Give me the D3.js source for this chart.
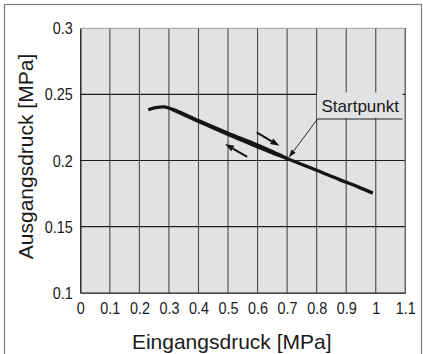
<!DOCTYPE html>
<html>
<head>
<meta charset="utf-8">
<script src="https://cdn.jsdelivr.net/npm/d3@7"></script>
<style>
  html, body { margin: 0; padding: 0; background: #fff; }
  svg { display: block; font-family: "Liberation Sans", Arial, sans-serif; }
</style>
</head>
<body>
<svg id="chart" width="423" height="354"></svg>
<script>
// ---- data ----
const xTicks = [0, 0.1, 0.2, 0.3, 0.4, 0.5, 0.6, 0.7, 0.8, 0.9, 1, 1.1];
const xTickLabels = ["0", "0.1", "0.2", "0.3", "0.4", "0.5", "0.6", "0.7", "0.8", "0.9", "1", "1.1"];
const yTicks = [0.1, 0.15, 0.2, 0.25, 0.3];
const yTickLabels = ["0.1", "0.15", "0.2", "0.25", "0.3"];

// upper branch (with hump at low input pressure)
const upperX = [0.230, 0.255, 0.281, 0.309, 0.40, 0.50, 0.60, 0.65, 0.704];
const upperY = [0.2384, 0.2400, 0.2405, 0.2390, 0.2302, 0.2207, 0.2118, 0.2068, 0.2011];
// lower branch
const lowerX = [0.309, 0.40, 0.50, 0.60, 0.65, 0.704];
const lowerY = [0.2386, 0.2294, 0.2195, 0.2102, 0.2056, 0.2011];
// common part after the start point
const tailX = [0.704, 0.80, 0.879, 0.94, 0.990];
const tailY = [0.2011, 0.1926, 0.1854, 0.1801, 0.1753];

const startPoint = [0.704, 0.2011];
const startLabel = "Startpunkt";
const xTitle = "Eingangsdruck [MPa]";
const yTitle = "Ausgangsdruck [MPa]";

// direction arrows [x1, y1, x2, y2]
const arrowRight = [0.597, 0.2212, 0.674, 0.2111];
const arrowLeft = [0.565, 0.2028, 0.490, 0.2124];

// ---- layout ----
const svg = d3.select("#chart");
const L = 80.3, R = 405.3, T = 28.3, B = 292.7;
const x = d3.scaleLinear().domain([0, 1.1]).range([L, R]);
const y = d3.scaleLinear().domain([0.1, 0.3]).range([B, T]);
const bg = "#e1e2e4";

// outer frame
svg.append("rect").attr("x", 4.5).attr("y", 4.5).attr("width", 417).attr("height", 360)
  .attr("fill", "none").attr("stroke", "#7a7a7a").attr("stroke-width", 1.2);

// plot background
svg.append("rect").attr("x", L).attr("y", T).attr("width", R - L).attr("height", B - T)
  .attr("fill", bg);

// vertical grid
svg.append("g").selectAll("line").data(xTicks.slice(1)).join("line")
  .attr("x1", d => x(d)).attr("x2", d => x(d)).attr("y1", T).attr("y2", B)
  .attr("stroke", "#4a4a4a").attr("stroke-width", 1.1);
// horizontal grid
svg.append("g").selectAll("line").data(yTicks.slice(1)).join("line")
  .attr("x1", L).attr("x2", R).attr("y1", d => y(d)).attr("y2", d => y(d))
  .attr("stroke", d => d === 0.3 ? "#8a8a8a" : "#1e1e1e").attr("stroke-width", d => d === 0.3 ? 0.8 : 1.1);
// right edge
svg.append("line").attr("x1", R).attr("x2", R).attr("y1", T).attr("y2", B)
  .attr("stroke", "#6a6a6a").attr("stroke-width", 1);

// axes
const xAxis = d3.axisBottom(x).tickValues(xTicks).tickSize(0).tickPadding(0)
  .tickFormat((d, i) => xTickLabels[i]);
const gx = svg.append("g").attr("transform", `translate(0,${B})`).call(xAxis);
gx.select(".domain").attr("stroke", "#111").attr("stroke-width", 1.3);
gx.selectAll("text").attr("y", 21).attr("dy", 0)
  .attr("font-size", 16).attr("fill", "#1a1a1a")
  .attr("font-family", "Liberation Sans, Arial, sans-serif")
  .attr("transform", "scale(0.9,1)");

const yAxis = d3.axisLeft(y).tickValues(yTicks).tickSize(0).tickPadding(0)
  .tickFormat((d, i) => yTickLabels[i]);
const gy = svg.append("g").attr("transform", `translate(${L},0)`).call(yAxis);
gy.select(".domain").attr("stroke", "#111").attr("stroke-width", 1.3);
gy.selectAll("text").attr("x", -8.5).attr("dy", 0).attr("y", 5.5)
  .attr("font-size", 16).attr("fill", "#1a1a1a")
  .attr("font-family", "Liberation Sans, Arial, sans-serif")
  .attr("transform", "scale(0.9,1)");

// label box hiding grid
svg.append("rect").attr("x", 317).attr("y", 92.5).attr("width", 85.5).attr("height", 25.5)
  .attr("fill", bg);

// curves
const line = d3.line().x(d => x(d[0])).y(d => y(d[1])).curve(d3.curveMonotoneX);
const zip = (a, b) => a.map((v, i) => [v, b[i]]);
const curveG = svg.append("g").attr("fill", "none").attr("stroke", "#151515");
curveG.append("path").attr("d", line(zip(upperX, upperY))).attr("stroke-width", 3.2);
curveG.append("path").attr("d", line(zip(lowerX, lowerY))).attr("stroke-width", 3);
curveG.append("path").attr("d", line(zip(tailX, tailY))).attr("stroke-width", 3.4);

// arrow helper
function arrow(x1, y1, x2, y2, width, headLen, headW) {
  const ang = Math.atan2(y2 - y1, x2 - x1);
  const bx = x2 - headLen * Math.cos(ang), by = y2 - headLen * Math.sin(ang);
  svg.append("line").attr("x1", x1).attr("y1", y1).attr("x2", bx).attr("y2", by)
    .attr("stroke", "#151515").attr("stroke-width", width);
  const px = -Math.sin(ang) * headW, py = Math.cos(ang) * headW;
  svg.append("path")
    .attr("d", `M${x2},${y2}L${bx + px},${by + py}L${bx - px},${by - py}Z`)
    .attr("fill", "#151515");
}
arrow(x(arrowRight[0]), y(arrowRight[1]), x(arrowRight[2]), y(arrowRight[3]), 2, 9, 3.2);
arrow(x(arrowLeft[0]), y(arrowLeft[1]), x(arrowLeft[2]), y(arrowLeft[3]), 2, 9, 3.2);

// start point label & leader
const ux1 = 317.5, ux2 = 402.5, uy = 119;
svg.append("line").attr("x1", ux1).attr("x2", ux2).attr("y1", uy).attr("y2", uy)
  .attr("stroke", "#222").attr("stroke-width", 1);
arrow(ux1, uy, x(startPoint[0]) + 0.5, y(startPoint[1]) - 1.5, 0.9, 8, 2.6);
svg.append("text").attr("x", 321.5).attr("y", 112).attr("font-size", 17)
  .attr("fill", "#1a1a1a").text(startLabel);

// axis titles
svg.append("text").attr("x", 231.7).attr("y", 348.5).attr("text-anchor", "middle")
  .attr("font-size", 21).attr("fill", "#1a1a1a").text(xTitle);
svg.append("text").attr("transform", "translate(32.5,156.5) rotate(-90)")
  .attr("text-anchor", "middle").attr("font-size", 21).attr("fill", "#1a1a1a").text(yTitle);
</script>
</body>
</html>
